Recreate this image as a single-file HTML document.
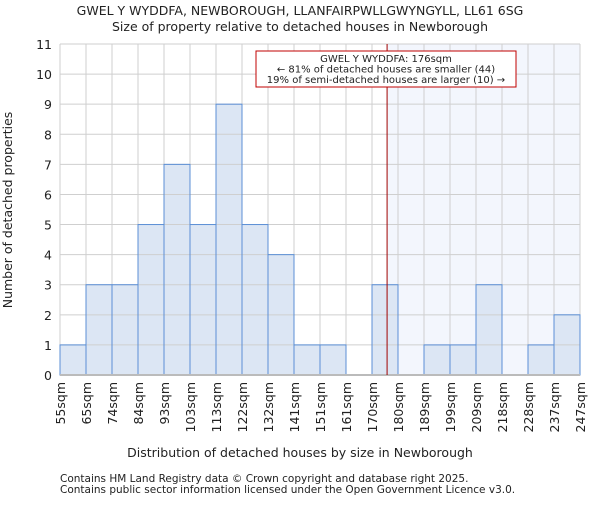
<!DOCTYPE html>
<html><head><meta charset="utf-8"><style>
body{margin:0;background:#fff;}
svg text{font-family:"DejaVu Sans","Liberation Sans",sans-serif;fill:#222;}
</style></head><body>
<svg id="c" width="600" height="500" xmlns="http://www.w3.org/2000/svg">
<text x="300" y="15" text-anchor="middle" font-size="12.5">GWEL Y WYDDFA, NEWBOROUGH, LLANFAIRPWLLGWYNGYLL, LL61 6SG</text>
<text x="300" y="31" text-anchor="middle" font-size="12.5">Size of property relative to detached houses in Newborough</text>
<g id="plot"></g>
<text x="300" y="457" text-anchor="middle" font-size="12.5">Distribution of detached houses by size in Newborough</text>
<text transform="translate(12,210) rotate(-90)" text-anchor="middle" font-size="12.5">Number of detached properties</text>
<text x="60" y="482" font-size="10.5" fill="#444">Contains HM Land Registry data © Crown copyright and database right 2025.</text>
<text x="60" y="493" font-size="10.5" fill="#444">Contains public sector information licensed under the Open Government Licence v3.0.</text>
</svg>
<script>
const categories=["55sqm","65sqm","74sqm","84sqm","93sqm","103sqm","113sqm","122sqm","132sqm","141sqm","151sqm","161sqm","170sqm","180sqm","189sqm","199sqm","209sqm","218sqm","228sqm","237sqm","247sqm"];
const counts=[1,3,3,5,7,5,9,5,4,1,1,0,3,0,1,1,3,0,1,2];
const yTicks=[0,1,2,3,4,5,6,7,8,9,10,11];
const markerBin=12.58;
const NS="http://www.w3.org/2000/svg";
const g=document.getElementById('plot');
const X0=60,X1=580,Y0=375,Y1=44,YMAX=11;
const bw=(X1-X0)/counts.length;
const xs=i=>X0+i*bw;
const ys=v=>Y0-(v/YMAX)*(Y0-Y1);
function mk(t,a){const e=document.createElementNS(NS,t);for(const k in a)e.setAttribute(k,a[k]);g.appendChild(e);return e;}
const mx=xs(markerBin);
let e=mk('rect',{x:mx,y:Y1,width:X1-mx,height:Y0-Y1,fill:'#f3f6fd'});


yTicks.forEach(t=>{const tx=mk('text',{x:X0-8,y:ys(t)+5,'text-anchor':'end','font-size':12.5});tx.textContent=t;

});
categories.forEach((c,i)=>{const tx=mk('text',{transform:`translate(${xs(i)+5},382) rotate(-90)`,'text-anchor':'end','font-size':12.5});tx.textContent=c;

});
counts.forEach((v,i)=>{if(v<=0)return;const r=mk('rect',{x:xs(i),y:ys(v),width:bw,height:Y0-ys(v),fill:'#dce6f4'});

});
yTicks.forEach(t=>{const l=mk('line',{x1:X0,x2:X1,y1:ys(t),y2:ys(t),stroke:'#cfcfcf','stroke-width':1});

});
categories.forEach((c,i)=>{const l=mk('line',{x1:xs(i),x2:xs(i),y1:Y1,y2:Y0,stroke:'#cfcfcf','stroke-width':1});

});
counts.forEach((v,i)=>{if(v<=0)return;const r=mk('rect',{x:xs(i),y:ys(v),width:bw,height:Y0-ys(v),fill:'none',stroke:'#5b8fd6','stroke-width':1});

});
e=mk('line',{x1:X0,x2:X1,y1:Y0,y2:Y0,stroke:'#bbb','stroke-width':2});


e=mk('line',{x1:mx,x2:mx,y1:Y1,y2:Y0,stroke:'#a00000','stroke-width':1});


e=mk('rect',{x:256,y:51,width:260,height:36,fill:'#fff',stroke:'#c00000','stroke-width':1});


["GWEL Y WYDDFA: 176sqm","← 81% of detached houses are smaller (44)","19% of semi-detached houses are larger (10) →"].forEach((s,k)=>{const t=mk('text',{x:386,y:62+k*10.5,'text-anchor':'middle','font-size':10});t.textContent=s;

});
</script>
</body></html>
